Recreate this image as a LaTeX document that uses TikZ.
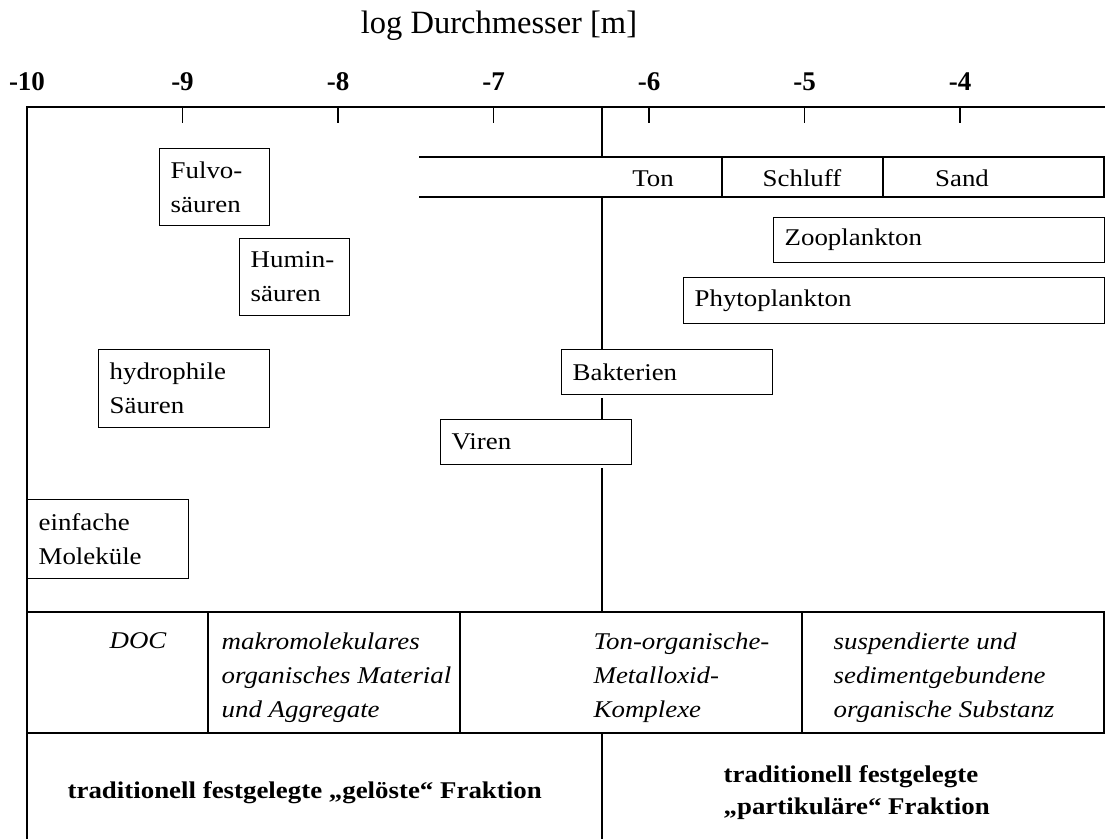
\documentclass[tikz,border=0pt]{standalone}
\usepackage{fontspec}
\setmainfont{Liberation Serif}
\newfontfamily\widefont[FakeStretch=1.12]{Liberation Serif}
\usetikzlibrary{positioning}

\tikzset{
  sizebox/.style={draw, fill=white, anchor=north west, inner xsep=11pt, inner ysep=0pt,
    align=left, font=\widefont\fontsize{24}{34}\selectfont},
  fractext/.style={anchor=north west, inner sep=0pt, align=left,
    font=\widefont\itshape\fontsize{24}{34}\selectfont},
  tradtext/.style={inner sep=0pt, align=left, font=\widefont\bfseries\fontsize{24}{32}\selectfont},
  ticklabel/.style={anchor=base, inner sep=0pt, font=\bfseries\fontsize{27}{30}\selectfont},
}

\begin{document}
\begin{tikzpicture}[x=1pt, y=-1pt, line width=1.3pt]
  \useasboundingbox (0,0) rectangle (1107,839);

  % axis
  \node[anchor=base, inner sep=0pt, font=\fontsize{32.5}{36}\selectfont] (title) at (499,33) {log Durchmesser [m]};
  \draw (27,839) -- (27,107) -- (1105,107);
  \foreach \v [count=\i] in {-10,...,-4} {
    \node[ticklabel] (tick\i) at ({27+(\v+10)*155.5},90) {\v};
  }
  \foreach \v in {-9,...,-4} {
    \draw ({27+(\v+10)*155.5},107) -- ++(0,16);
  }

  % 0.45 micron limit
  \draw (602,107) -- (602,157);
  \draw (602,197) -- (602,349);
  \draw (602,398) -- (602,419);
  \draw (602,468) -- (602,612);
  \draw (602,733) -- (602,839);

  % grain sizes
  \draw (419,157) -- (1104,157) -- (1104,197) -- (419,197);
  \draw (722,157) -- (722,197);
  \draw (883,157) -- (883,197);
  \node[anchor=base, font=\widefont\fontsize{24}{34}\selectfont] (ton) at (653,186) {Ton};
  \node[anchor=base, font=\widefont\fontsize{24}{34}\selectfont] (schluff) at (802,186) {Schluff};
  \node[anchor=base, font=\widefont\fontsize{24}{34}\selectfont] (sand) at (962,186) {Sand};

  % size ranges
  \node[sizebox, text width=88pt, minimum height=77pt] (fulvo) at (159,148) {Fulvo-\\säuren};
  \node[sizebox, text width=88pt, minimum height=77pt] (humin) at (239,238) {Humin-\\säuren};
  \node[sizebox, text width=149pt, minimum height=78pt] (hydro) at (98,349) {hydrophile\\Säuren};
  \node[sizebox, text width=139pt, minimum height=79pt] (molek) at (27,499) {einfache\\Moleküle};
  \node[sizebox, text width=309pt, minimum height=45pt] (zoo) at (773,217) {Zooplankton};
  \node[sizebox, text width=399pt, minimum height=46pt] (phyto) at (683,277) {Phytoplankton};
  \node[sizebox, text width=189pt, minimum height=45pt] (bakt) at (561,349) {Bakterien};
  \node[sizebox, text width=169pt, minimum height=45pt] (viren) at (440,419) {Viren};

  % fractions
  \draw (27,612) -- (1105,612);
  \draw (27,733) -- (1105,733);
  \foreach \x in {208,460,802,1104} {
    \draw (\x,612) -- (\x,733);
  }
  \node[fractext] (doc) at (109,632) {DOC};
  \node[fractext] (makro) at (221,632) {makromolekulares\\organisches Material\\und Aggregate};
  \node[fractext] (komplex) at (593,632) {Ton-organische-\\Metalloxid-\\Komplexe};
  \node[fractext] (suspend) at (833,632) {suspendierte und\\sedimentgebundene\\organische Substanz};

  \node[tradtext, anchor=base west] (geloest) at (67,798) {traditionell festgelegte „gelöste“ Fraktion};
  \node[tradtext, anchor=north west] (partik) at (723,765) {traditionell festgelegte\\„partikuläre“ Fraktion};
\end{tikzpicture}
\end{document}
